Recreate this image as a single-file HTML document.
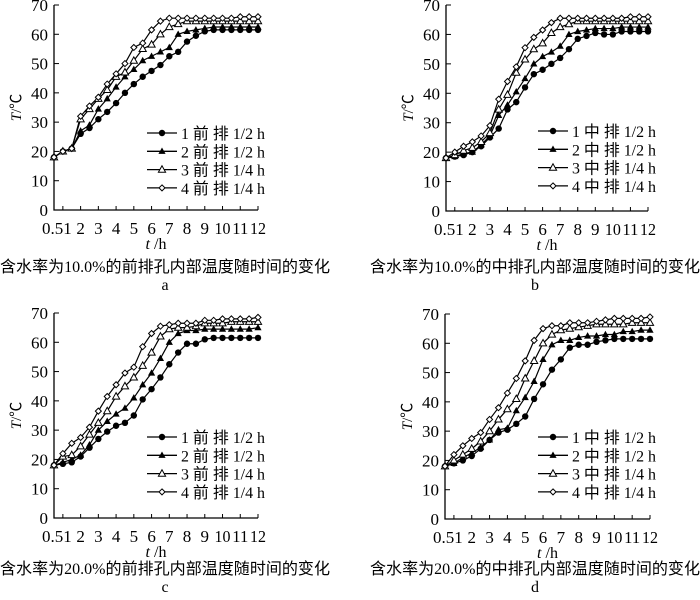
<!DOCTYPE html>
<html><head><meta charset="utf-8"><style>
body{margin:0;background:#fff}
text{font-family:"Liberation Serif","Noto Sans CJK SC",serif;fill:#000}
</style></head><body>
<svg id="s" width="700" height="595" xmlns="http://www.w3.org/2000/svg" font-family="'Liberation Serif','Noto Sans CJK SC',serif"></svg>
<script>
const P=[
 {x0:54,x1:258,y0:210,y7:5,lx:147,ly:133,cx:165,cy:266,lab:'a',cap:'含水率为10.0%的前排孔内部温度随时间的变化',k:'前',
 d:[[18,20,21,26,28,31,33.5,36.5,40,43,45.5,47.5,49.5,52.5,54,57.5,59.5,61,61.5,61.5,61.5,61.5,61.5,61.5],
 [18,20,21,27,29,34.5,38,42,45.5,48,51,52.5,54,55.5,60,61,61.5,62,62.5,62.5,62.5,62.5,62.5,62.5],
 [18,20,21,31,34.5,38,41,45.5,47,51,55,56.5,60,62.5,63.5,64.5,64.5,64.5,64.5,64.5,64.5,64.5,64.5,64.5],
 [18,20,21,32,35.5,38.5,43,46.5,50,55.5,57,61.5,64.5,65.5,65.5,65.5,65.5,65.5,65.5,65.5,65.5,66,66,66]]},
 {x0:446,x1:648,y0:211,y7:5,lx:538,ly:131,cx:535,cy:266,lab:'b',cap:'含水率为10.0%的中排孔内部温度随时间的变化',k:'中',
 d:[[18,18.5,19,20,22,25,28,34.5,37,42,46.5,48,50,52,55,58.5,59.5,60.5,60,60,61,61,61,61],
 [18,18.5,19.5,20,22.5,25.5,32.5,36,40.5,45,50,52.5,54,56,60,61,61.5,62,62,62,62.5,62.5,62.5,62.5],
 [18,19,20.5,21.5,23.5,26.5,34.5,39.5,47,51.5,55,57,60.5,62.5,63.5,64.5,64.5,64.5,64.5,64.5,64.5,64.5,64.5,64.5],
 [18,20,22,23.5,25.5,29,38,44,49,55.5,59,61.5,64,65.5,65.5,65.5,65.5,65.5,65.5,65.5,65.5,66,66,66]]},
 {x0:54,x1:258,y0:518,y7:313,lx:147,ly:437,cx:165,cy:568,lab:'c',cap:'含水率为20.0%的前排孔内部温度随时间的变化',k:'前',
 d:[[18,18.5,19,21,24,27,29.5,31.5,32.5,35,40.5,44,48,52.5,56.5,59.5,59.5,61,61.5,61.5,61.5,61.5,61.5,61.5],
 [18,19,20,21.5,25,30,33,35.5,37.5,41,45.5,49.5,54.5,60,63,64,64,64.5,64.5,64.5,64.5,64.5,64.5,65],
 [18,21,21.5,24.5,28.5,32.5,36.5,41.5,45,48,52,56.5,62,64.5,65,65,65.5,66.5,66.5,66.5,67,67,67,67],
 [18,22,25.5,27.5,31,36.5,41.5,45.5,49.5,51.5,58.5,63,65.5,66,66.5,66.5,66.5,67.5,67.5,68,68,68,68,68.5]]},
 {x0:445,x1:650,y0:519,y7:314,lx:538,ly:437,cx:535,cy:568,lab:'d',cap:'含水率为20.0%的中排孔内部温度随时间的变化',k:'中',
 d:[[18,19,20,21.5,24,27,29.5,30.5,32.5,35,41,46,51,54.5,58.5,59.5,59.5,60.5,61,61.5,61.5,61.5,61.5,61.5],
 [18,19,21,22.5,24.5,27,30.5,31,37,41.5,47,54.5,59.5,61,61,62,62.5,62.5,63,63,64,64,64.5,64.5],
 [18,20,22,24,26.5,30,34,37.5,41,48,54,60,63,64.5,65,65.5,66,66.5,66.5,66.5,66.5,67,67,67],
 [18,22,25,27.5,29.5,34,38,43,48,54,61,65,66,66,67,67,67,67.5,68,68.5,68.5,68.5,68.5,69]]}
];
function mk(i,x,y){
 if(i==0)return `<circle cx="${x}" cy="${y}" r="3.2" fill="#000"/>`;
 if(i==1)return `<polygon points="${x},${y-3.8} ${x-3.6},${y+2.6} ${x+3.6},${y+2.6}" fill="#000"/>`;
 if(i==2)return `<polygon points="${x},${y-3.8} ${x-3.6},${y+2.6} ${x+3.6},${y+2.6}" fill="#fff" stroke="#000" stroke-width="1"/>`;
 return `<polygon points="${x},${y-3} ${x+3},${y} ${x},${y+3} ${x-3},${y}" fill="#fff" stroke="#000" stroke-width="1"/>`;
}
const F='font-family="Liberation Serif, Noto Sans CJK SC, serif"';
let h='';
for(const p of P){
 const dx=(p.x1-p.x0)/23,sy=(p.y0-p.y7)/70;
 const X=j=>p.x0+j*dx,Y=v=>p.y0-v*sy;
 h+=`<path d="M${p.x0},${p.y7}V${p.y0}H${p.x1}" fill="none" stroke="#000" stroke-width="1.3"/>`;
 for(let v=0;v<=70;v+=10){h+=`<line x1="${p.x0}" x2="${p.x0+5}" y1="${Y(v)}" y2="${Y(v)}" stroke="#000"/><text ${F} x="${p.x0-6}" y="${Y(v)+6}" font-size="17" text-anchor="end">${v}</text>`;}
 for(let t=1;t<=12;t++){const x=X(2*t-1);h+=`<line x1="${x}" x2="${x}" y1="${p.y0}" y2="${p.y0-4}" stroke="#000"/>`;}
 h+=`<text ${F} x="${p.x0-12}" y="${p.y0+24}" font-size="17">0.51</text>`;
 for(let t=2;t<=12;t++){h+=`<text ${F} x="${X(2*t-1)}" y="${p.y0+24}" font-size="17" text-anchor="middle" ${t>=10?'textLength="16" lengthAdjust="spacingAndGlyphs"':''}>${t}</text>`;}
 h+=`<text ${F} x="${(p.x0+p.x1)/2}" y="${p.y0+39}" font-size="16" text-anchor="middle"><tspan font-style="italic">t</tspan> /h</text>`;
 h+=`<text ${F} transform="translate(${p.x0-33},${(p.y0+p.y7)/2}) rotate(-90)" font-size="15" text-anchor="middle"><tspan font-style="italic">T</tspan>/℃</text>`;
 p.d.forEach((s,i)=>{h+=`<polyline points="${s.map((v,j)=>X(j)+','+Y(v)).join(' ')}" fill="none" stroke="#000" stroke-width="1.2"/>`;});
 p.d.forEach((s,i)=>{s.forEach((v,j)=>h+=mk(i,X(j),Y(v)));});
 const lt=['1','2','3','4'],hh=['1/2','1/2','1/4','1/4'];
 for(let i=0;i<4;i++){const y=p.ly+i*18.3;h+=`<line x1="${p.lx}" x2="${p.lx+30}" y1="${y}" y2="${y}" stroke="#000" stroke-width="1.3"/>`+mk(i,p.lx+15,y)+`<text ${F} x="${p.lx+34}" y="${y+6}" font-size="16" textLength="84" lengthAdjust="spacingAndGlyphs">${lt[i]} ${p.k} 排 ${hh[i]} h</text>`;}
 h+=`<text ${F} x="${p.cx}" y="${p.cy+6}" font-size="16" text-anchor="middle" textLength="330" lengthAdjust="spacingAndGlyphs">${p.cap}</text>`;
 h+=`<text ${F} x="${p.cx}" y="${p.cy+24}" font-size="16" text-anchor="middle">${p.lab}</text>`;
}
document.getElementById('s').innerHTML=h;
</script>
</body></html>
